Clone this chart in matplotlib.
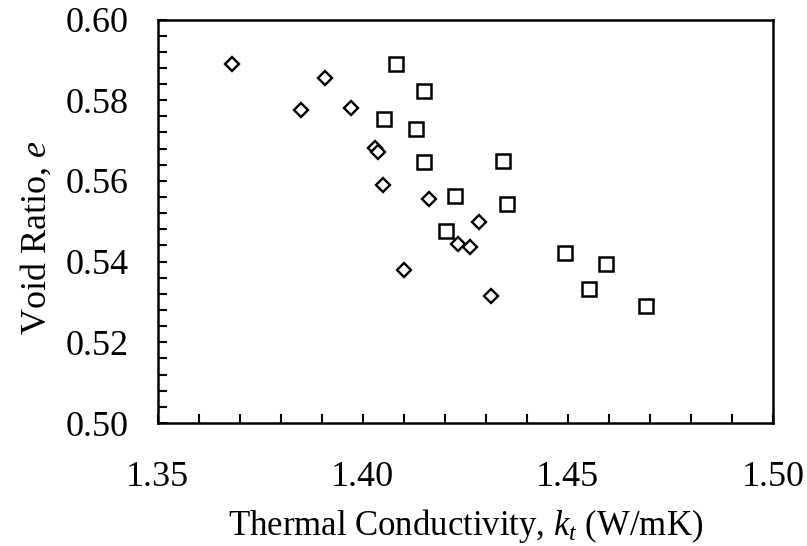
import matplotlib
matplotlib.use("Agg")
import matplotlib.pyplot as plt
from matplotlib.ticker import MultipleLocator

plt.rcParams['font.family'] = 'Liberation Serif'
plt.rcParams['mathtext.fontset'] = 'custom'
plt.rcParams['mathtext.rm'] = 'Liberation Serif'
plt.rcParams['mathtext.it'] = 'Liberation Serif:italic'

# diamonds
kt_diamond = [1.3682, 1.3850, 1.3908, 1.3972, 1.4030, 1.4037, 1.4050,
              1.4162, 1.4283, 1.4232, 1.4262, 1.4101, 1.4313]
e_diamond = [0.5890, 0.5776, 0.5855, 0.5781, 0.5682, 0.5672, 0.5590,
             0.5555, 0.5498, 0.5444, 0.5436, 0.5379, 0.5315]

# squares
kt_square = [1.4081, 1.4150, 1.4052, 1.4130, 1.4150, 1.4342, 1.4225,
             1.4352, 1.4203, 1.4493, 1.4593, 1.4552, 1.4691]
e_square = [0.5890, 0.5823, 0.5753, 0.5729, 0.5647, 0.5649, 0.5563,
            0.5543, 0.5476, 0.5421, 0.5394, 0.5332, 0.5290]

fig = plt.figure(figsize=(8.07, 5.46), dpi=100)
ax = fig.add_axes([157.5/807, 1-423/546, (773-157.5)/807, (423-19.5)/546])

ax.plot(kt_diamond, e_diamond, linestyle='none', marker='D', markersize=7.2,
        markerfacecolor='white', markeredgecolor='black', markeredgewidth=1.7)
ax.plot(kt_square, e_square, linestyle='none', marker='s', markersize=9.5,
        markerfacecolor='white', markeredgecolor='black', markeredgewidth=1.8)

ax.set_xlim(1.35, 1.50)
ax.set_ylim(0.50, 0.60)
ax.xaxis.set_major_locator(MultipleLocator(0.05))
ax.xaxis.set_minor_locator(MultipleLocator(0.01))
ax.yaxis.set_major_locator(MultipleLocator(0.02))
ax.yaxis.set_minor_locator(MultipleLocator(0.004))
ax.xaxis.set_major_formatter(lambda v, p: f"{v:.2f}")
ax.yaxis.set_major_formatter(lambda v, p: f"{v:.2f}")

ax.tick_params(which='both', direction='in', length=6.5, width=1.5,
               top=False, right=False)
ax.tick_params(axis='y', which='major', labelsize=26, pad=21)
ax.tick_params(axis='x', which='major', labelsize=26, pad=27)
for s in ax.spines.values():
    s.set_linewidth(1.8)

ax.set_xlabel("Thermal Conductivity, $k_t$ (W/mK)", fontsize=25, labelpad=10)
ax.set_ylabel("Void Ratio, $e$", fontsize=26, labelpad=8)
ax.yaxis.label.set_y(0.46)

fig.savefig("out.png", dpi=100)
